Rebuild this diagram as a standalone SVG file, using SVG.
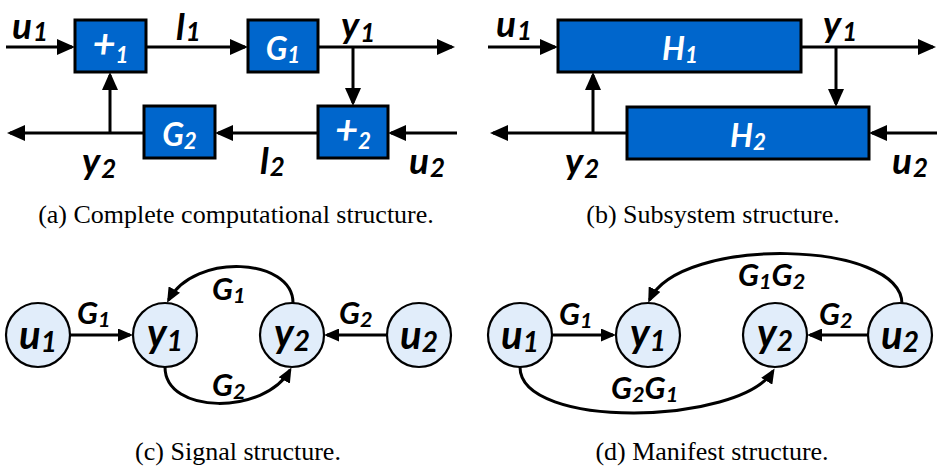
<svg xmlns="http://www.w3.org/2000/svg" width="937" height="468" viewBox="0 0 937 468">
<style>
.box{fill:#0066cc;stroke:#000;stroke-width:3}
.node{fill:#e1edfa;stroke:#000;stroke-width:2.2}
.wa{fill:none;stroke:#000;stroke-width:3;marker-end:url(#ab)}
.wc{fill:none;stroke:#000;stroke-width:3;marker-end:url(#as)}
.lbl{font-family:Lato,"Open Sans","Liberation Sans",sans-serif;font-weight:bold;font-style:italic;fill:#000}
.big{font-size:37px}
.mid{font-size:31px}
.bx{font-size:32px;fill:#fff}
.pl{font-size:40px}
.nd{font-size:40px}
.sub{font-size:0.7em}
.cap{font-family:"Liberation Serif","Times New Roman",serif;font-size:26px;fill:#000;text-anchor:middle}
</style>
<defs>
<marker id="ab" markerUnits="userSpaceOnUse" markerWidth="18" markerHeight="16" refX="15" refY="8" orient="auto">
<path d="M0,0 L18,8 L0,16 z" fill="#000"/>
</marker>
<marker id="as" markerUnits="userSpaceOnUse" markerWidth="15" markerHeight="13" refX="12" refY="6.5" orient="auto">
<path d="M0,0 L15,6.5 L0,13 z" fill="#000"/>
</marker>
</defs>

<g id="connectors">
<path class="wa" d="M6 47 L72 47"/>
<path class="wa" d="M146 47 L245 47"/>
<path class="wa" d="M318 47 L452 47"/>
<path class="wa" d="M353 47 L353 103"/>
<path class="wa" d="M457 133 L391 133"/>
<path class="wa" d="M318 133 L218 133"/>
<path class="wa" d="M144 133 L10 133"/>
<path class="wa" d="M110 133 L110 75"/>
<path class="wa" d="M488 47 L555 47"/>
<path class="wa" d="M801 47 L933 47"/>
<path class="wa" d="M836 47 L836 104"/>
<path class="wa" d="M937 133 L872 133"/>
<path class="wa" d="M627 133 L493 133"/>
<path class="wa" d="M593 133 L593 75"/>
<path class="wc" d="M70 335 L130 335"/>
<path class="wc" d="M387 335 L327 335"/>
<path class="wc" d="M293 303 C293 258 195 252 168.5 300"/>
<path class="wc" d="M165 367 C165 415 265 415 290 370"/>
<path class="wc" d="M552 335 L613 335"/>
<path class="wc" d="M868 335 L810 335"/>
<path class="wc" d="M902 304 C902 240 680 235 649.5 300"/>
<path class="wc" d="M520 367 C520 430 740 425 773 371"/>
</g>

<g id="plus1"><rect class="box" x="75" y="20" width="71" height="52"/><text class="lbl bx" x="110.5" y="58" text-anchor="middle"><tspan class="pl">+</tspan><tspan class="sub" dy="5">1</tspan></text></g>
<g id="G1box"><rect class="box" x="248" y="20" width="70" height="52"/><text class="lbl bx" x="283" y="60" text-anchor="middle">G<tspan class="sub" dy="3">1</tspan></text></g>
<g id="G2box"><rect class="box" x="144" y="106" width="71" height="52"/><text class="lbl bx" x="179.5" y="146" text-anchor="middle">G<tspan class="sub" dy="3">2</tspan></text></g>
<g id="plus2"><rect class="box" x="318" y="106" width="70" height="52"/><text class="lbl bx" x="353" y="144" text-anchor="middle"><tspan class="pl">+</tspan><tspan class="sub" dy="5">2</tspan></text></g>
<g id="labels-a">
<text class="lbl big" x="12" y="39">u<tspan class="sub" dx="1" dy="2">1</tspan></text>
<text class="lbl big" x="176" y="40">l<tspan class="sub" dx="1" dy="1">1</tspan></text>
<text class="lbl big" x="341" y="38">y<tspan class="sub" dx="1" dy="4">1</tspan></text>
<text class="lbl big" x="82" y="174">y<tspan class="sub" dx="1" dy="4">2</tspan></text>
<text class="lbl big" x="260" y="174">l<tspan class="sub" dx="1" dy="2">2</tspan></text>
<text class="lbl big" x="409" y="174">u<tspan class="sub" dx="1" dy="3">2</tspan></text>
</g>

<g id="H1"><rect class="box" x="558" y="20" width="243" height="52"/><text class="lbl bx" x="680" y="60" text-anchor="middle">H<tspan class="sub" dy="3">1</tspan></text></g>
<g id="H2"><rect class="box" x="627" y="107" width="242" height="52"/><text class="lbl bx" x="748" y="147" text-anchor="middle">H<tspan class="sub" dy="3">2</tspan></text></g>
<g id="labels-b">
<text class="lbl big" x="496" y="37">u<tspan class="sub" dx="1" dy="3">1</tspan></text>
<text class="lbl big" x="823" y="37">y<tspan class="sub" dx="1" dy="4">1</tspan></text>
<text class="lbl big" x="565" y="174">y<tspan class="sub" dx="1" dy="4">2</tspan></text>
<text class="lbl big" x="892" y="174">u<tspan class="sub" dx="1" dy="3">2</tspan></text>
</g>

<g id="c-u1"><circle class="node" cx="38" cy="335" r="32"/><text class="lbl nd" x="38" y="349" text-anchor="middle">u<tspan class="sub" dy="3">1</tspan></text></g>
<g id="c-y1"><circle class="node" cx="165" cy="335" r="32"/><text class="lbl nd" x="165" y="347" text-anchor="middle">y<tspan class="sub" dy="4">1</tspan></text></g>
<g id="c-y2"><circle class="node" cx="292" cy="335" r="32"/><text class="lbl nd" x="292" y="347" text-anchor="middle">y<tspan class="sub" dy="4">2</tspan></text></g>
<g id="c-u2"><circle class="node" cx="419" cy="335" r="32"/><text class="lbl nd" x="419" y="349" text-anchor="middle">u<tspan class="sub" dy="3">2</tspan></text></g>
<g id="labels-c">
<text class="lbl mid" x="77" y="324">G<tspan class="sub" dy="3">1</tspan></text>
<text class="lbl mid" x="339" y="324">G<tspan class="sub" dy="3">2</tspan></text>
<text class="lbl mid" x="212" y="300">G<tspan class="sub" dy="3">1</tspan></text>
<text class="lbl mid" x="212" y="396">G<tspan class="sub" dy="3">2</tspan></text>
</g>

<g id="d-u1"><circle class="node" cx="520" cy="335" r="32"/><text class="lbl nd" x="520" y="349" text-anchor="middle">u<tspan class="sub" dy="3">1</tspan></text></g>
<g id="d-y1"><circle class="node" cx="648" cy="335" r="32"/><text class="lbl nd" x="648" y="347" text-anchor="middle">y<tspan class="sub" dy="4">1</tspan></text></g>
<g id="d-y2"><circle class="node" cx="775" cy="335" r="32"/><text class="lbl nd" x="775" y="347" text-anchor="middle">y<tspan class="sub" dy="4">2</tspan></text></g>
<g id="d-u2"><circle class="node" cx="900" cy="335" r="32"/><text class="lbl nd" x="900" y="349" text-anchor="middle">u<tspan class="sub" dy="3">2</tspan></text></g>
<g id="labels-d">
<text class="lbl mid" x="559" y="325">G<tspan class="sub" dy="3">1</tspan></text>
<text class="lbl mid" x="819" y="325">G<tspan class="sub" dy="3">2</tspan></text>
<text class="lbl mid" x="738" y="286">G<tspan class="sub" dy="3">1</tspan><tspan dy="-3">G</tspan><tspan class="sub" dy="3">2</tspan></text>
<text class="lbl mid" x="611" y="399">G<tspan class="sub" dy="3">2</tspan><tspan dy="-3">G</tspan><tspan class="sub" dy="3">1</tspan></text>
</g>

<g id="captions">
<text class="cap" x="236" y="223">(a) Complete computational structure.</text>
<text class="cap" x="713" y="223">(b) Subsystem structure.</text>
<text class="cap" x="238" y="460">(c) Signal structure.</text>
<text class="cap" x="712" y="460">(d) Manifest structure.</text>
</g>
</svg>
